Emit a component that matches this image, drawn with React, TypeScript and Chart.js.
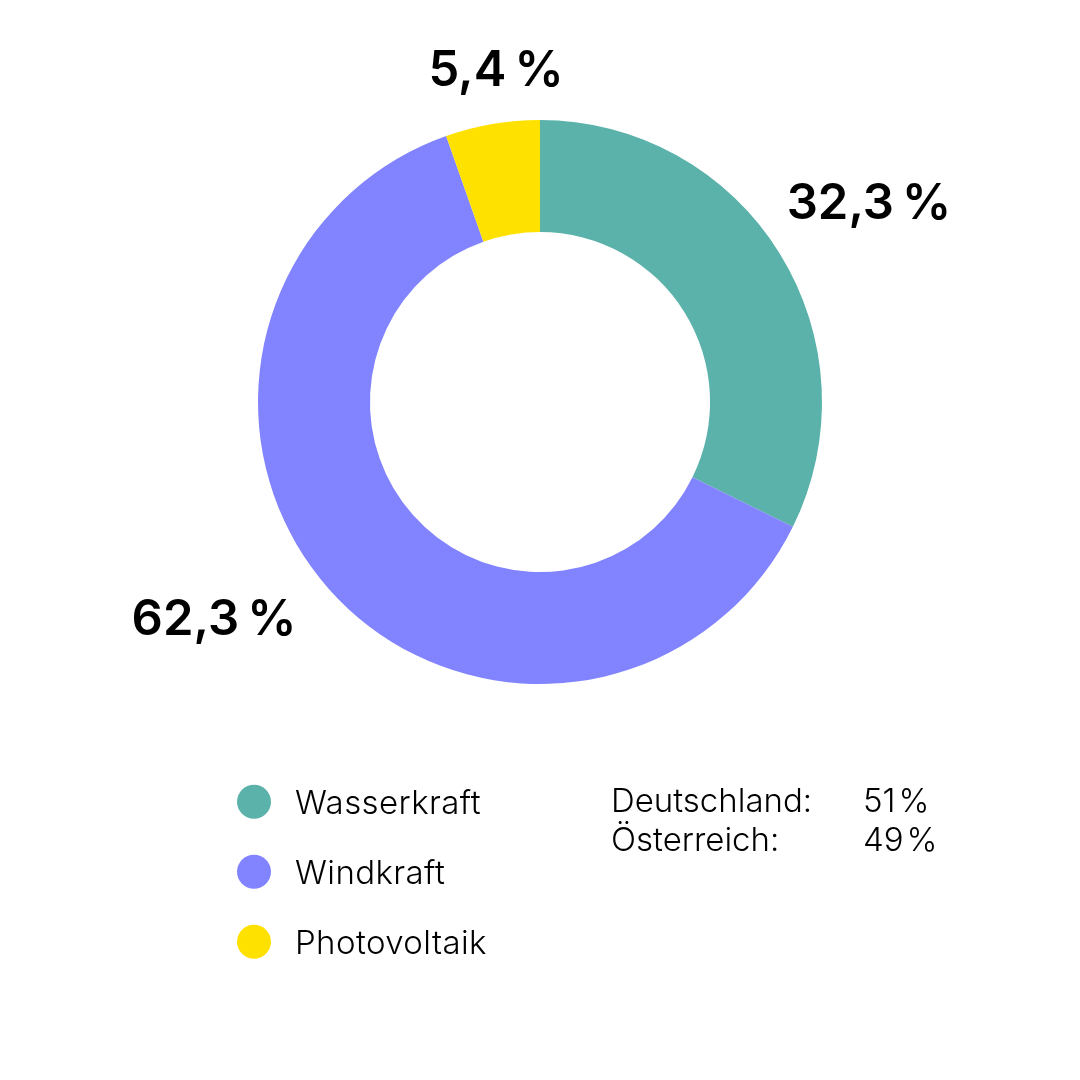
import { useEffect, useRef } from "react"
import { Chart, registerables } from "chart.js"

Chart.register(...registerables)

// Anteile der Erzeugung
const categories = ["Wasserkraft", "Windkraft", "Photovoltaik"]
const shares = [32.3, 62.3, 5.4]
const shareLabels = ["32,3\u202F%", "62,3\u202F%", "5,4\u202F%"]
const colors = ["#5bb2aa", "#8183ff", "#ffe100"]

// Länderaufteilung
const countries = ["Deutschland:", "Österreich:"]
const countryShares = ["51\u200A%", "49\u200A%"]

const FONT = "Inter, 'Noto Sans', sans-serif"

// label offsets from the doughnut centre (x, baseline y)
const labelOffsets = [
  [329, -183],
  [-326, 233],
  [-44, -316],
]

const overlayPlugin = {
  id: "overlay",
  afterDraw(chart: Chart) {
    const ctx: any = chart.ctx
    const arc: any = chart.getDatasetMeta(0).data[0]
    if (!arc) return
    const cx = arc.x
    const cy = arc.y

    ctx.save()
    ctx.fillStyle = "#000"
    ctx.textBaseline = "alphabetic"

    // percentage labels
    ctx.font = `600 49px ${FONT}`
    ctx.textAlign = "center"
    shareLabels.forEach((txt, i) => {
      const [dx, dy] = labelOffsets[i]
      ctx.fillText(txt, cx + dx, cy + dy)
    })

    // legend
    ctx.textAlign = "left"
    ctx.font = `300 33px ${FONT}`
    ctx.letterSpacing = "0.4px"
    categories.forEach((name, i) => {
      const y = 801.7 + i * 70
      ctx.beginPath()
      ctx.fillStyle = colors[i]
      ctx.arc(254, y, 17, 0, Math.PI * 2)
      ctx.fill()
      ctx.fillStyle = "#000"
      ctx.fillText(name, 295, y + 12)
    })

    // countries
    ctx.letterSpacing = "0px"
    countries.forEach((name, i) => {
      const y = 812 + i * 38.5
      ctx.fillText(name, 611, y)
      ctx.fillText(countryShares[i], 863, y)
    })
    ctx.restore()
  },
}

export default function App() {
  const chartRef = useRef<HTMLCanvasElement>(null)
  const chartInstance = useRef<Chart | null>(null)

  useEffect(() => {
    if (!chartRef.current) return
    if (chartInstance.current) chartInstance.current.destroy()
    const ctx = chartRef.current.getContext("2d")
    if (!ctx) return

    chartInstance.current = new Chart(ctx, {
      type: "doughnut",
      data: {
        labels: categories,
        datasets: [
          {
            data: shares,
            backgroundColor: colors,
            borderWidth: 0,
          },
        ],
      },
      options: {
        responsive: false,
        animation: false,
        cutout: "60.3%",
        layout: {
          padding: { left: 258, right: 258, top: 120, bottom: 396 },
        },
        plugins: {
          legend: { display: false },
          tooltip: { enabled: false },
        },
      },
      plugins: [overlayPlugin],
    })

    return () => {
      if (chartInstance.current) {
        chartInstance.current.destroy()
        chartInstance.current = null
      }
    }
  }, [])

  return (
    <div style={{ position: "absolute", left: 0, top: 0, width: 1080, height: 1080, background: "#fff" }}>
      <canvas ref={chartRef} width={1080} height={1080} />
    </div>
  )
}
